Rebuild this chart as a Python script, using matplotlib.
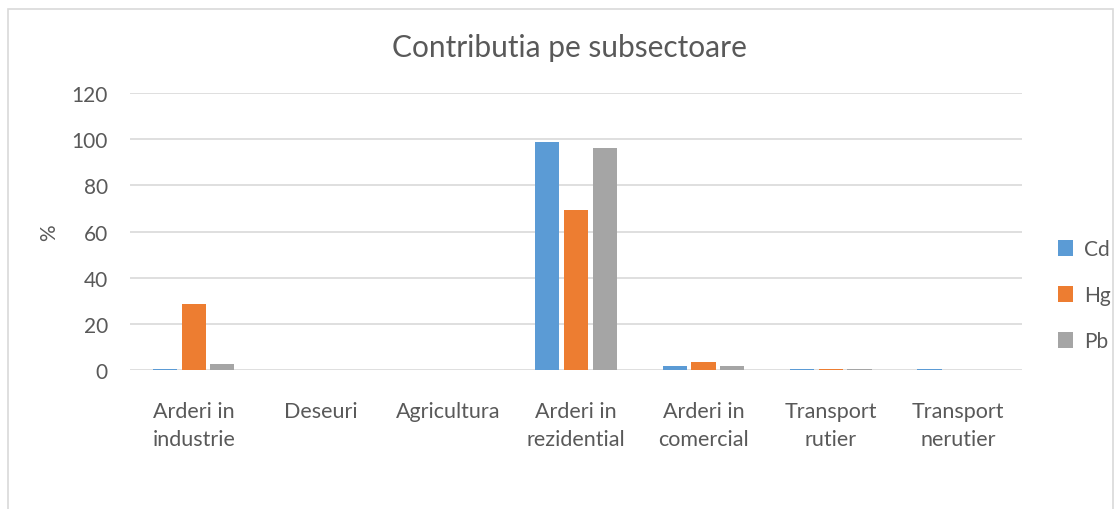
import matplotlib
matplotlib.use('Agg')
import matplotlib.pyplot as plt
import numpy as np
from matplotlib.patches import Rectangle

plt.rcParams['font.family'] = ['Lato', 'DejaVu Sans']

categories = ['Arderi in\nindustrie', 'Deseuri', 'Agricultura', 'Arderi in\nrezidential',
              'Arderi in\ncomercial', 'Transport\nrutier', 'Transport\nnerutier']
cd = [0.3, 0, 0, 98.7, 1.7, 0.3, 0.3]
hg = [28.6, 0, 0, 69.3, 3.3, 0.3, 0]
pb = [2.5, 0, 0, 96.0, 1.7, 0.3, 0]
series = ['Cd', 'Hg', 'Pb']
colors = ['#5b9bd5', '#ed7d31', '#a5a5a5']
txt = '#595959'

fig = plt.figure(figsize=(11.14, 5.10), dpi=100)
ax = fig.add_axes([0.1167, 0.2725, 0.8007, 0.5432])

x = np.arange(len(categories))
w = 0.19
for i, (vals, name) in enumerate(zip([cd, hg, pb], series)):
    ax.bar(x + (i - 1) * 0.225, vals, w, color=colors[i], label=name, zorder=3)

ax.set_xlim(-0.5, len(categories) - 0.5)
ax.set_ylim(0, 120)
ax.set_yticks(range(0, 121, 20))
ax.set_xticks(x)
ax.set_xticklabels(categories, fontsize=15.5, color=txt, linespacing=1.5)
ax.tick_params(axis='y', labelsize=15, labelcolor=txt, length=0, pad=16)
ax.tick_params(axis='x', length=0, pad=22)
ax.grid(axis='y', color='#d9d9d9', linewidth=1.2, zorder=0)
for s in ax.spines.values():
    s.set_visible(False)
ax.set_ylabel('%', fontsize=15, color=txt, labelpad=9)

fig.text(0.511, 0.905, 'Contributia pe subsectoare', ha='center', va='center',
         fontsize=21.5, color=txt)

ax.legend(loc='center left', bbox_to_anchor=(1.04, 0.27), frameon=False,
          fontsize=15, labelcolor=txt, handlelength=0.75, handleheight=0.75,
          labelspacing=1.25, handletextpad=0.5, borderaxespad=0, borderpad=0)

fig.patches.append(Rectangle((8 / 1114, -0.1), 1105 / 1114, 1.1 - 10 / 510,
                             transform=fig.transFigure, fill=False,
                             edgecolor='#d9d9d9', linewidth=1.2))

fig.savefig('out.png', dpi=100)
